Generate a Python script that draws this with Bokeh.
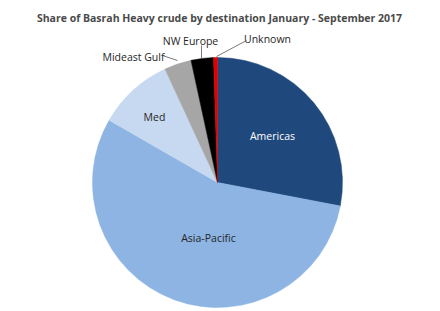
import math
from bokeh.plotting import figure
from bokeh.models import Range1d, ColumnDataSource
from bokeh.core.properties import value
from bokeh.embed import file_html
from bokeh.resources import INLINE

# Data
destinations = ["Americas", "Asia-Pacific", "Med", "Mideast Gulf", "NW Europe", "Unknown"]
shares = [28.0, 55.3, 9.8, 3.5, 2.9, 0.5]
colors = ["#1F497D", "#8DB4E2", "#C6D9F1", "#A6A6A6", "#000000", "#E00000"]
title = "Share of Basrah Heavy crude by destination January - September 2017"

W, H = 440, 311
CX, CY, R = 217, H - 182, 125

total = sum(shares)
starts, ends = [], []
acc = 0.0
for s in shares:
    starts.append(math.pi / 2 - acc / total * 2 * math.pi)
    acc += s
    ends.append(math.pi / 2 - acc / total * 2 * math.pi)

p = figure(width=W, height=H, output_backend="svg", toolbar_location=None,
           x_range=Range1d(0, W), y_range=Range1d(0, H), min_border=0)
p.axis.visible = False
p.grid.visible = False
p.outline_line_color = None
p.background_fill_color = "white"

src = ColumnDataSource(dict(start=starts, end=ends, color=colors, name=destinations))
p.wedge(x=CX, y=CY, radius=R, start_angle="start", end_angle="end",
        direction="clock", fill_color="color", line_color="color", line_width=0.5,
        source=src)

# Title
p.text(x=[219], y=[H - 17], text=[title], text_font=value("Open Sans"),
       text_font_style="bold", text_font_size="10.5px", text_color="#4a4a4a",
       text_align="center", text_baseline="middle")

# Label layout (pixel positions, top-down y)
label_xy = [(272, 135), (208, 237), (154, 116), (133, 56), (190, 40), (267, 38)]
label_col = ["white", "#262626", "#262626", "#262626", "#262626", "#262626"]
p.text(x=[a for a, b in label_xy], y=[H - b for a, b in label_xy], text=destinations,
       text_font=value("Open Sans"), text_font_size="10.5px", text_color=label_col,
       text_align="center", text_baseline="middle")

# Leader lines
lead_x0 = [162, 201, 246]
lead_y0 = [55, 45, 40]
lead_x1 = [177, 201, 216]
lead_y1 = [60, 58, 56]
p.segment(x0=lead_x0, y0=[H - v for v in lead_y0], x1=lead_x1, y1=[H - v for v in lead_y1],
          line_color="#595959", line_width=0.8)

open("out.html", "w").write(file_html(p, INLINE))
